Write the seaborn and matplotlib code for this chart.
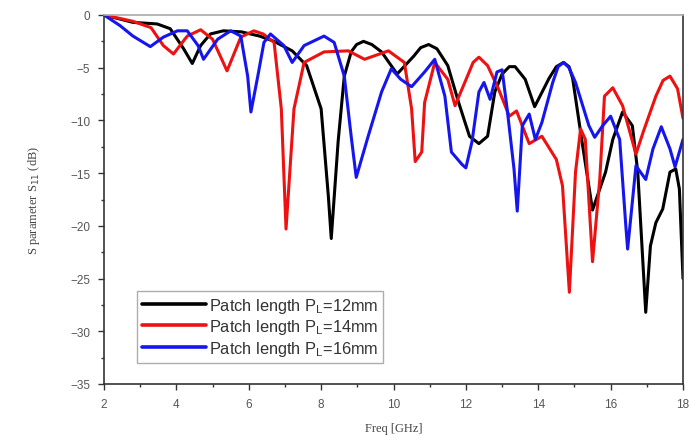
import numpy as np
import pandas as pd
import matplotlib
matplotlib.use("Agg")
import matplotlib.pyplot as plt
import seaborn as sns
from matplotlib.ticker import MultipleLocator

# ---- data ----
f_black = [2.0, 2.8, 3.47, 3.83, 4.2, 4.44, 4.67, 4.94, 5.3, 5.8, 6.3, 6.7, 7.2, 7.6, 8.0, 8.2, 8.28,
           8.47, 8.64, 8.83, 8.98, 9.17, 9.4, 9.67, 10.1, 10.56, 10.75, 10.97, 11.2, 11.5, 11.8, 12.1,
           12.36, 12.6, 12.8, 13.0, 13.2, 13.36, 13.64, 13.9, 14.3, 14.5, 14.7, 14.85, 14.95, 15.2, 15.5,
           15.86, 16.06, 16.33, 16.6, 16.75, 16.97, 17.1, 17.25, 17.44, 17.64, 17.8, 17.9, 18.0]
s_black = [0, -0.7, -0.85, -1.3, -3.2, -4.6, -2.9, -1.8, -1.5, -1.6, -2.0, -2.5, -3.4, -4.8, -8.9, -17.2,
           -21.2, -12.0, -5.8, -3.5, -2.8, -2.5, -2.8, -3.5, -5.6, -3.9, -3.1, -2.8, -3.2, -4.8, -8.3,
           -11.5, -12.2, -11.5, -7.3, -5.6, -4.9, -4.9, -6.1, -8.7, -6.0, -4.9, -4.5, -4.9, -6.0, -11.8,
           -18.5, -14.9, -11.8, -9.2, -10.5, -14.9, -28.2, -21.9, -19.7, -18.4, -14.9, -14.6, -16.5, -25.0]

f_red = [2.0, 2.8, 3.3, 3.64, 3.92, 4.3, 4.67, 5.0, 5.4, 5.78, 6.14, 6.4, 6.7, 6.9, 7.03, 7.25, 7.53,
         8.08, 8.75, 9.2, 9.86, 10.3, 10.5, 10.6, 10.78, 10.86, 11.14, 11.5, 11.7, 11.97, 12.2, 12.36,
         12.6, 12.9, 13.2, 13.4, 13.75, 14.1, 14.5, 14.67, 14.86, 15.03, 15.17, 15.3, 15.5, 15.7, 15.83,
         16.06, 16.33, 16.7, 16.9, 17.25, 17.45, 17.64, 17.85, 18.0]
s_red = [0, -0.6, -1.2, -2.9, -3.7, -2.0, -1.4, -2.3, -5.3, -2.1, -1.5, -1.8, -2.6, -8.9, -20.3, -8.9,
         -4.5, -3.5, -3.4, -4.2, -3.4, -4.5, -8.9, -13.9, -13.0, -8.3, -4.5, -6.1, -8.6, -6.4, -4.5,
         -4.0, -4.8, -7.0, -9.6, -9.1, -12.2, -11.5, -13.7, -16.2, -26.3, -14.9, -10.8, -11.8, -23.4,
         -15.6, -7.7, -6.9, -8.6, -13.2, -11.1, -7.7, -6.2, -5.8, -7.0, -9.8]

f_blue = [2.0, 2.44, 2.8, 3.28, 3.64, 4.03, 4.3, 4.6, 4.75, 5.14, 5.5, 5.78, 5.97, 6.06, 6.25, 6.42,
          6.6, 6.97, 7.2, 7.53, 8.08, 8.36, 8.64, 8.83, 8.97, 9.3, 9.67, 9.94, 10.2, 10.5, 10.86, 11.14,
          11.42, 11.6, 11.9, 12.0, 12.17, 12.36, 12.5, 12.67, 12.86, 13.0, 13.14, 13.33, 13.42, 13.56,
          13.75, 13.92, 14.1, 14.4, 14.55, 14.7, 14.85, 15.03, 15.4, 15.56, 15.78, 16.0, 16.25, 16.42,
          16.47, 16.7, 16.97, 17.17, 17.4, 17.64, 17.78, 18.0]
s_blue = [0, -1.0, -2.0, -3.0, -2.1, -1.5, -1.5, -2.9, -4.2, -2.3, -1.5, -2.0, -5.8, -9.2, -5.8, -2.6,
          -1.8, -2.9, -4.5, -2.9, -2.0, -2.6, -5.8, -11.5, -15.4, -11.5, -7.3, -5.1, -6.1, -6.8, -5.4,
          -4.2, -7.7, -13.0, -14.2, -14.5, -12.0, -7.3, -6.4, -8.0, -5.4, -5.2, -8.9, -14.6, -18.6,
          -10.5, -9.4, -11.8, -10.2, -6.4, -4.9, -4.5, -5.0, -6.4, -10.5, -11.6, -10.5, -9.6, -11.8,
          -20.0, -22.2, -14.3, -15.6, -12.7, -10.6, -12.7, -14.4, -11.8]

labels = [r"Patch length P$_\mathregular{L}$=12mm",
          r"Patch length P$_\mathregular{L}$=14mm",
          r"Patch length P$_\mathregular{L}$=16mm"]
colors = ["#000000", "#ee1111", "#1515ee"]

df = pd.concat([
    pd.DataFrame({"freq": f_black, "s11": s_black, "series": labels[0]}),
    pd.DataFrame({"freq": f_red, "s11": s_red, "series": labels[1]}),
    pd.DataFrame({"freq": f_blue, "s11": s_blue, "series": labels[2]}),
], ignore_index=True)

sns.set_style("ticks")
plt.rcParams["font.family"] = ["Liberation Sans", "DejaVu Sans"]

fig = plt.figure(figsize=(6.89, 4.39), dpi=100)
ax = fig.add_axes([104/689, 1-385/439, (683-104)/689, (385-16)/439])

sns.lineplot(data=df, x="freq", y="s11", hue="series", hue_order=labels,
             palette=colors, linewidth=2.2, sort=False, ax=ax, legend=True)
for ln in ax.get_lines():
    ln.set_solid_joinstyle("round")
    ln.set_solid_capstyle("round")

ax.set_xlim(2, 18)
ax.set_ylim(-35, 0)
ax.xaxis.set_major_locator(MultipleLocator(2))
ax.yaxis.set_major_locator(MultipleLocator(5))
ax.yaxis.set_minor_locator(MultipleLocator(2.5))
ax.xaxis.set_minor_locator(MultipleLocator(1))
ax.tick_params(axis="both", which="major", direction="out", length=4, width=1,
               labelsize=8.5, labelcolor="#555555", color="#333333", pad=6)
ax.tick_params(axis="both", which="minor", direction="out", length=2, width=1, color="#333333")

for side in ["left", "bottom", "right"]:
    ax.spines[side].set_color("#333333")
    ax.spines[side].set_linewidth(1.2)
ax.spines["top"].set_color("#aaaaaa")
ax.spines["top"].set_linewidth(1.2)

ax.set_xlabel("Freq [GHz]", fontsize=9, family=["Liberation Serif"], color="#444444", labelpad=9)
ax.set_ylabel(r"S parameter S$_{11}$ (dB)", fontsize=9, family=["Liberation Serif"],
              color="#444444", labelpad=20)

leg = ax.legend(loc="lower left", bbox_to_anchor=(0.057, 0.058), fontsize=11.8,
                handlelength=3.9, handletextpad=0.2, labelspacing=0.15, borderpad=0.3,
                frameon=True, fancybox=False, edgecolor="#999999", borderaxespad=0)
leg.get_frame().set_linewidth(1.0)
for line in leg.get_lines():
    line.set_linewidth(2.6)
for t in leg.get_texts():
    t.set_color("#333333")

fig.savefig("out.png", dpi=100)
